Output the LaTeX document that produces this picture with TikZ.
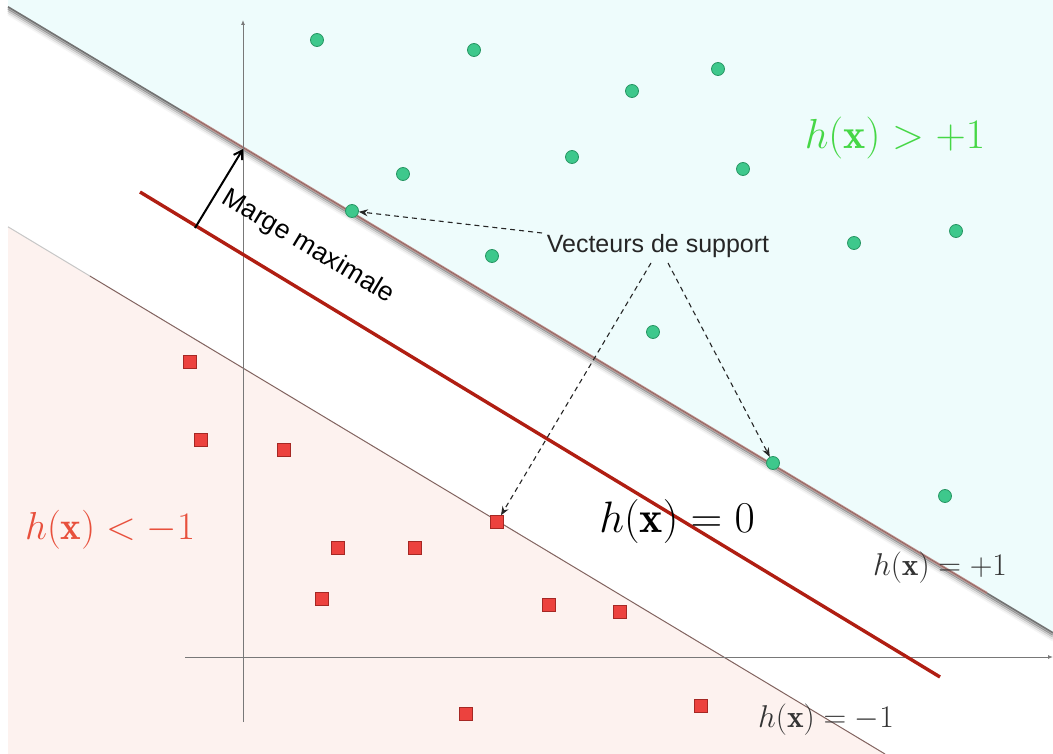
\RequirePackage{fix-cm}
\documentclass[tikz,border=0pt]{standalone}
\usepackage{fontspec}
\setsansfont{Liberation Sans}
\usetikzlibrary{arrows.meta,calc}
\definecolor{cyanbg}{RGB}{238,252,252}
\definecolor{pinkbg}{RGB}{253,242,239}
\definecolor{gfill}{RGB}{62,200,140}
\definecolor{gdraw}{RGB}{40,150,100}
\definecolor{rfill}{RGB}{236,66,62}
\definecolor{rdraw}{RGB}{165,40,36}
\definecolor{hyper}{RGB}{176,30,18}
\definecolor{rosy}{RGB}{190,140,136}
\definecolor{lowline}{RGB}{130,100,96}
\definecolor{greenlab}{RGB}{70,215,70}
\definecolor{redlab}{RGB}{232,80,60}
\definecolor{axisc}{RGB}{120,120,120}
\tikzset{
  gdot/.style={circle, fill=gfill, draw=gdraw, line width=0.8pt, minimum size=13pt, inner sep=0pt},
  rsq/.style={rectangle, fill=rfill, draw=rdraw, line width=0.8pt, minimum size=12.5pt, inner sep=0pt},
  dasharrow/.style={dashed, dash pattern=on 5pt off 4pt, line width=1.1pt, black!85, -{Stealth[length=9pt,width=7pt]}},
  axisline/.style={axisc, line width=0.9pt, -{Latex[length=5pt,width=4pt]}},
  bigmath/.style={inner sep=0pt, font=\fontsize{42}{50}\selectfont},
  midmath/.style={inner sep=0pt, font=\fontsize{31.5}{37}\selectfont},
  sanslab/.style={inner sep=0pt, font=\sffamily\fontsize{25}{30}\selectfont}
}
\begin{document}
\begin{tikzpicture}[x=1pt,y=-1pt]
\useasboundingbox (0,0) rectangle (1053,754);
\fill[white] (0,0) rectangle (1053,754);
% regions
\fill[cyanbg] (8,0) -- (1053,0) -- (1053,632.8) -- (8,6.8) -- cycle;
\fill[pinkbg] (8,226.8) -- (885,754) -- (8,754) -- cycle;
% shadow of upper margin line
\foreach \d/\o in {1.5/0.30,3.5/0.18,5.5/0.09,7.5/0.04}
  \draw[line width=2.5pt, black, opacity=\o] (8,6.8+\d) -- (1053,632.8+\d);
% upper margin line h=+1
\coordinate (u0) at (8,6.8);
\coordinate (u1) at (183,111.6);
\coordinate (u2) at (987,593.2);
\coordinate (u3) at (1053,632.8);
\draw[line width=1.6pt, black!55] (u0) -- (u1);
\draw[line width=2.4pt, rosy] (u1) -- (u2);
\draw[line width=0.6pt, rosy!70!black] (u1) -- (u2);
\draw[line width=1.6pt, black!55] (u2) -- (u3);
% lower margin line h=-1
\coordinate (l0) at (8,226.8);
\coordinate (l1) at (90,276.1);
\coordinate (l2) at (885,754);
\draw[line width=1pt, black!22] (l0) -- (l1);
\draw[line width=1pt, lowline] (l1) -- (l2);
% axes
\coordinate (ya) at (243,722);
\coordinate (yb) at (243,20);
\coordinate (xa) at (185,657);
\coordinate (xb) at (1053,657);
\draw[axisline] (ya) -- (yb);
\draw[axisline] (xa) -- (xb);
% separating hyperplane h=0
\coordinate (h0) at (140,192);
\coordinate (h1) at (940,677);
\draw[line width=3.4pt, hyper] (h0) -- (h1);
% margin arrow
\coordinate (mA) at (195,228);
\coordinate (mB) at (243,149);
\draw[line width=2pt, black, -{Straight Barb[length=8pt,width=10pt]}] (mA) -- (mB);
\node[sanslab, rotate=-31, text=black, font=\sffamily\fontsize{26.5}{31}\selectfont] (marge) at (308,247) {Marge maximale};
% green points
\node[gdot] (g1) at (317,40) {};
\node[gdot] (g2) at (474,50) {};
\node[gdot] (g3) at (718,69) {};
\node[gdot] (g4) at (632,91) {};
\node[gdot] (g5) at (572,157) {};
\node[gdot] (g6) at (403,174) {};
\node[gdot] (g7) at (743,169) {};
\node[gdot] (sv1) at (352,211) {};
\node[gdot] (g9) at (492,256) {};
\node[gdot] (g10) at (854,243) {};
\node[gdot] (g11) at (956,231) {};
\node[gdot] (g12) at (653,332) {};
\node[gdot] (sv2) at (773,463) {};
\node[gdot] (g14) at (945,496) {};
% red points
\node[rsq] (r1) at (190,362) {};
\node[rsq] (r2) at (201,440) {};
\node[rsq] (r3) at (284,450) {};
\node[rsq] (r4) at (338,548) {};
\node[rsq] (r5) at (415,548) {};
\node[rsq] (sv3) at (497,522) {};
\node[rsq] (r7) at (322,599) {};
\node[rsq] (r8) at (549,605) {};
\node[rsq] (r9) at (620,612) {};
\node[rsq] (r10) at (466,714) {};
\node[rsq] (r11) at (701,706) {};
% support vector label and arrows
\node[sanslab, text=black!85] (vs) at (658,246) {Vecteurs de support};
\coordinate (a1) at (542,233);
\coordinate (a2) at (651,263);
\coordinate (a3) at (668,263);
\draw[dasharrow] (a1) -- (sv1);
\draw[dasharrow] (a2) -- (sv3);
\draw[dasharrow] (a3) -- (sv2);
% labels
\node[bigmath, text=greenlab] (lp) at (895,138) {$h(\mathbf{x})>+1$};
\node[bigmath, text=redlab, font=\fontsize{39}{46}\selectfont] (lm) at (110,530) {$h(\mathbf{x})<-1$};
\node[bigmath, text=black, font=\fontsize{44}{52}\selectfont] (l0lab) at (677,521) {$h(\mathbf{x})=0$};
\node[midmath, text=black!80] (lp1) at (940,568) {$h(\mathbf{x})=+1$};
\node[midmath, text=black!80] (lm1) at (826,720) {$h(\mathbf{x})=-1$};
\end{tikzpicture}
\end{document}
